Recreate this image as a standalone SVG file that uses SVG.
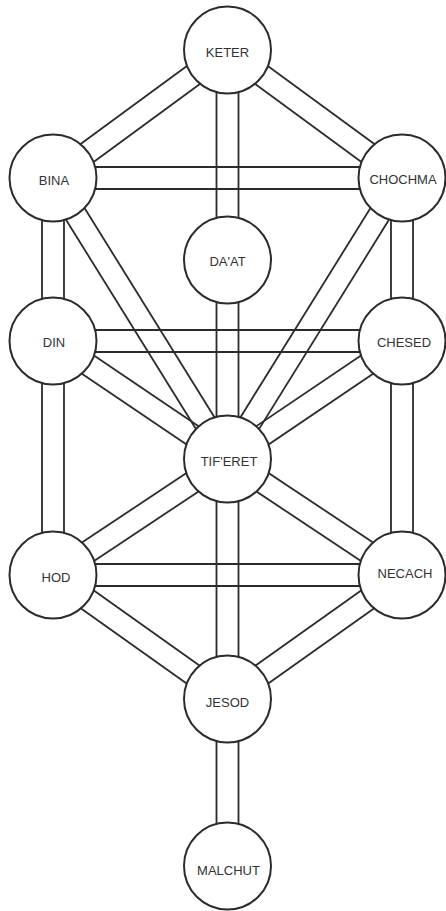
<svg xmlns="http://www.w3.org/2000/svg" width="446" height="911" viewBox="0 0 446 911">
<style>
.ch line{stroke:#2b2b2b;stroke-width:1.8;fill:none}
.n circle{fill:#ffffff;stroke:#2b2b2b;stroke-width:2}
.n text{font-family:"Liberation Sans",Arial,sans-serif;font-size:13px;fill:#333333;text-anchor:middle}
</style>
<rect width="446" height="911" fill="#ffffff"/>
<g id="connectors" class="ch">
<!-- KETER-BINA -->
<line x1="221.0" y1="41.1" x2="46.5" y2="169.1"/><line x1="234.0" y1="58.9" x2="59.5" y2="186.9"/>
<!-- KETER-CHOCHMA -->
<line x1="234.0" y1="41.1" x2="408.5" y2="169.1"/><line x1="221.0" y1="58.9" x2="395.5" y2="186.9"/>
<!-- central column -->
<line x1="216.5" y1="50" x2="216.5" y2="866"/><line x1="238.5" y1="50" x2="238.5" y2="866"/>
<!-- BINA-CHOCHMA -->
<line x1="53" y1="167" x2="402" y2="167"/><line x1="53" y1="189" x2="402" y2="189"/>
<!-- DIN-CHESED -->
<line x1="53" y1="330" x2="402" y2="330"/><line x1="53" y1="352" x2="402" y2="352"/>
<!-- HOD-NECACH -->
<line x1="53" y1="564" x2="402" y2="564"/><line x1="53" y1="586" x2="402" y2="586"/>
<!-- left column -->
<line x1="42" y1="178" x2="42" y2="575"/><line x1="64" y1="178" x2="64" y2="575"/>
<!-- right column -->
<line x1="391" y1="178" x2="391" y2="575"/><line x1="413" y1="178" x2="413" y2="575"/>
<!-- BINA-TIFERET -->
<line x1="43.7" y1="183.8" x2="218.2" y2="464.8"/><line x1="62.3" y1="172.2" x2="236.8" y2="453.2"/>
<!-- CHOCHMA-TIFERET -->
<line x1="411.3" y1="183.8" x2="236.8" y2="464.8"/><line x1="392.7" y1="172.2" x2="218.2" y2="453.2"/>
<!-- DIN-TIFERET -->
<line x1="46.8" y1="350.1" x2="221.3" y2="468.1"/><line x1="59.2" y1="331.9" x2="233.7" y2="449.9"/>
<!-- CHESED-TIFERET -->
<line x1="408.2" y1="350.1" x2="233.7" y2="468.1"/><line x1="395.8" y1="331.9" x2="221.3" y2="449.9"/>
<!-- TIFERET-HOD -->
<line x1="221.4" y1="449.8" x2="46.9" y2="565.8"/><line x1="233.6" y1="468.2" x2="59.1" y2="584.2"/>
<!-- TIFERET-NECACH -->
<line x1="233.6" y1="449.8" x2="408.1" y2="565.8"/><line x1="221.4" y1="468.2" x2="395.9" y2="584.2"/>
<!-- HOD-JESOD -->
<line x1="46.6" y1="584.0" x2="221.1" y2="708.0"/><line x1="59.4" y1="566.0" x2="233.9" y2="690.0"/>
<!-- NECACH-JESOD -->
<line x1="408.4" y1="584.0" x2="233.9" y2="708.0"/><line x1="395.6" y1="566.0" x2="221.1" y2="690.0"/>
</g>
<g id="keter" class="n"><circle cx="227.5" cy="50" r="43.5"/><text x="227.5" y="57">KETER</text></g>
<g id="bina" class="n"><circle cx="53" cy="178" r="43.5"/><text x="54" y="185">BINA</text></g>
<g id="chochma" class="n"><circle cx="402" cy="178" r="43.5"/><text x="403" y="184">CHOCHMA</text></g>
<g id="daat" class="n"><circle cx="227.5" cy="260" r="43.5"/><text x="227.5" y="266">DA'AT</text></g>
<g id="din" class="n"><circle cx="53" cy="341" r="43.5"/><text x="54" y="347">DIN</text></g>
<g id="chesed" class="n"><circle cx="402" cy="341" r="43.5"/><text x="404" y="347">CHESED</text></g>
<g id="tiferet" class="n"><circle cx="227.5" cy="459" r="43.5"/><text x="229" y="466">TIF'ERET</text></g>
<g id="hod" class="n"><circle cx="53" cy="575" r="43.5"/><text x="56" y="582">HOD</text></g>
<g id="necach" class="n"><circle cx="402" cy="575" r="43.5"/><text x="405" y="578">NECACH</text></g>
<g id="jesod" class="n"><circle cx="227.5" cy="699" r="43.5"/><text x="227.5" y="707">JESOD</text></g>
<g id="malchut" class="n"><circle cx="227.5" cy="866" r="43.5"/><text x="228.5" y="875">MALCHUT</text></g>
</svg>
